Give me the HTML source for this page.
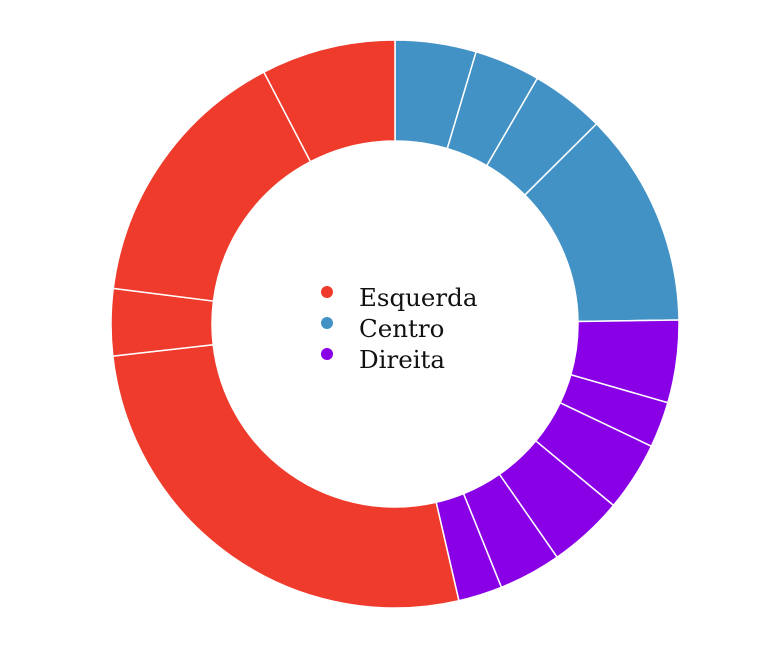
<!DOCTYPE html>
<html><head><meta charset="utf-8"><style>
html,body{margin:0;padding:0;background:#fff;width:775px;height:664px;overflow:hidden}
svg{display:block}
text{font-family:"DejaVu Serif",serif;font-size:24.5px;fill:#111}
</style></head><body>
<svg id="chart" width="775" height="664" viewBox="0 0 775 664"></svg>
<script>
const categories = ["Centro","Centro","Centro","Centro","Direita","Direita","Direita","Direita","Direita","Direita","Esquerda","Esquerda","Esquerda","Esquerda"];
const values = [16.6,13.5,15.1,44,16.9,9.4,14.2,15.5,12.8,9,96.5,13.7,55.3,27.5];
const legendLabels = ["Esquerda","Centro","Direita"];
const colors = {"Esquerda":"#ef3b2c","Centro":"#4292c6","Direita":"#8a00e6"};
const cx=395, cy=324, R=284, r=183;
const svg=document.getElementById('chart');
const NS='http://www.w3.org/2000/svg';
const total=values.reduce((a,b)=>a+b,0);
function pt(rad,a){return [cx+rad*Math.sin(a), cy-rad*Math.cos(a)];}
let acc=0;
values.forEach((v,i)=>{
  const a0=acc/total*2*Math.PI; acc+=v; const a1=acc/total*2*Math.PI;
  const large=(a1-a0)>Math.PI?1:0;
  const [x0,y0]=pt(R,a0),[x1,y1]=pt(R,a1),[x2,y2]=pt(r,a1),[x3,y3]=pt(r,a0);
  const p=document.createElementNS(NS,'path');
  p.setAttribute('d',`M${x0},${y0}A${R},${R} 0 ${large} 1 ${x1},${y1}L${x2},${y2}A${r},${r} 0 ${large} 0 ${x3},${y3}Z`);
  p.setAttribute('fill',colors[categories[i]]);
  p.setAttribute('stroke','#fff');
  p.setAttribute('stroke-width','1.5');
  
  
  svg.appendChild(p);
});
legendLabels.forEach((l,i)=>{
  const g=document.createElementNS(NS,'g');
  
  
  const c=document.createElementNS(NS,'circle');
  c.setAttribute('cx',327); c.setAttribute('cy',292+i*31); c.setAttribute('r',6);
  c.setAttribute('fill',colors[l]);
  
  
  const t=document.createElementNS(NS,'text');
  t.setAttribute('x',359); t.setAttribute('y',306+i*31);
  t.textContent=l;
  
  
  g.appendChild(c); g.appendChild(t); svg.appendChild(g);
});
</script>
</body></html>
